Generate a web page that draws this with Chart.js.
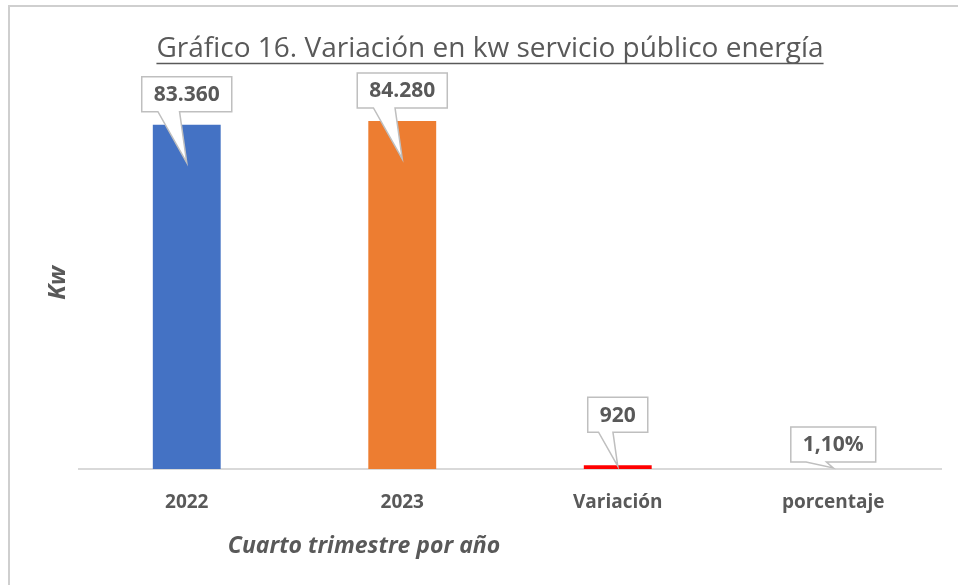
<!DOCTYPE html>
<html>
<head>
<meta charset="utf-8">
<script src="https://cdn.jsdelivr.net/npm/chart.js@4"></script>
<style>
    html, body { margin: 0; padding: 0; background: #fff; }
    #wrap { position: relative; width: 958px; height: 585px; }
    #frame { position: absolute; left: 8px; top: 5px; right: 0; bottom: 0; border-left: 2px solid #cfcfcf; border-top: 2px solid #cfcfcf; }
    canvas { position: absolute; left: 0; top: 0; }
</style>
</head>
<body>
<div id="wrap">
    <div id="frame"></div>
    <canvas id="chart" width="958" height="585"></canvas>
</div>
<script>
const categories = ['2022', '2023', 'Variación', 'porcentaje'];
const values = [83360, 84280, 920, 1.10];
const valueLabels = ['83.360', '84.280', '920', '1,10%'];
const barColors = ['#4472C4', '#ED7D31', '#FF0000', '#A5A5A5'];
const axisMax = 100000;

// how far each callout box sits above its bar, and how deep its tail reaches into it
const calloutLift = [13, 13, 33, 7];
const tailDepth = [38, 38, 1, 0];

const textGray = '#595959';

const calloutPlugin = {
    id: 'callouts',
    afterDatasetsDraw(chart) {
        const ctx = chart.ctx;
        const meta = chart.getDatasetMeta(0);
        const base = chart.scales.y.getPixelForValue(0);
        ctx.save();
        ctx.font = 'bold 21px "Open Sans"';
        meta.data.forEach((bar, i) => {
            const cx = bar.x;
            const top = Math.min(bar.y, base);
            const w = ctx.measureText(valueLabels[i]).width + 24;
            const h = 35;
            const boxBottom = top - calloutLift[i];
            const boxTop = boxBottom - h;
            const left = cx - w / 2;
            const tipY = Math.min(top + tailDepth[i], base - 1);

            ctx.beginPath();
            ctx.moveTo(left, boxTop);
            ctx.lineTo(left + w, boxTop);
            ctx.lineTo(left + w, boxBottom);
            ctx.lineTo(cx - 0.08 * w, boxBottom);
            ctx.lineTo(cx, tipY);
            ctx.lineTo(cx - 0.32 * w, boxBottom);
            ctx.lineTo(left, boxBottom);
            ctx.closePath();
            ctx.fillStyle = '#ffffff';
            ctx.fill();
            ctx.strokeStyle = '#bfbfbf';
            ctx.lineWidth = 1.5;
            ctx.stroke();

            ctx.fillStyle = textGray;
            ctx.textAlign = 'center';
            ctx.textBaseline = 'middle';
            ctx.fillText(valueLabels[i], cx, boxTop + h / 2 + 1);
        });
        ctx.restore();
    }
};

const titlesPlugin = {
    id: 'titles',
    afterDraw(chart) {
        const ctx = chart.ctx;
        ctx.save();
        ctx.fillStyle = textGray;
        ctx.strokeStyle = textGray;

        // main title, underlined
        const title = 'Gráfico 16. Variación en kw servicio público energía';
        ctx.font = '28px "Open Sans"';
        ctx.textAlign = 'center';
        ctx.textBaseline = 'alphabetic';
        const tx = 490;
        ctx.fillText(title, tx, 57);
        const tw = ctx.measureText(title).width;
        ctx.lineWidth = 1.5;
        ctx.beginPath();
        ctx.moveTo(tx - tw / 2, 63.5);
        ctx.lineTo(tx + tw / 2, 63.5);
        ctx.stroke();

        // x axis title
        ctx.font = 'italic bold 23px "Open Sans"';
        ctx.textBaseline = 'middle';
        ctx.fillText('Cuarto trimestre por año', 364, 546);

        // y axis title
        ctx.translate(58, 283);
        ctx.rotate(-Math.PI / 2);
        ctx.font = 'italic bold 24px "Open Sans"';
        ctx.fillText('Kw', 0, 0);
        ctx.restore();
    }
};

new Chart(document.getElementById('chart'), {
    type: 'bar',
    data: {
        labels: categories,
        datasets: [{
            data: values,
            backgroundColor: barColors,
            borderWidth: 0,
            barPercentage: 0.63,
            categoryPercentage: 0.5
        }]
    },
    options: {
        responsive: false,
        animation: false,
        layout: { padding: { left: 79, right: 17, top: 56, bottom: 0 } },
        plugins: {
            legend: { display: false },
            tooltip: { enabled: false }
        },
        scales: {
            x: {
                grid: { display: false, drawTicks: false },
                border: { color: '#d9d9d9', width: 2 },
                ticks: {
                    color: textGray,
                    font: { family: 'Open Sans', weight: 'bold', size: 19 },
                    padding: 22
                },
                afterFit(scale) { scale.height = 116; }
            },
            y: {
                display: false,
                min: 0,
                max: axisMax
            }
        }
    },
    plugins: [calloutPlugin, titlesPlugin]
});
</script>
</body>
</html>
